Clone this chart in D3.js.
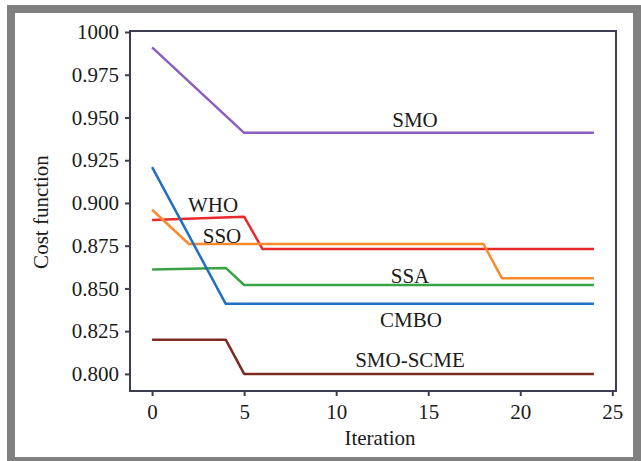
<!DOCTYPE html>
<html><head><meta charset="utf-8">
<script src="https://cdn.jsdelivr.net/npm/d3@7"></script>
<style>html,body{margin:0;padding:0;background:#fff;} svg{display:block;}</style>
</head><body>
<script>
// Data (breakpoints)
const seriesNames = ["SMO", "CMBO", "WHO", "SSO", "SSA", "SMO-SCME"];
const smoIter = [0, 5, 24];
const smoVal = [0.991, 0.941, 0.941];
const cmboIter = [0, 4, 24];
const cmboVal = [0.921, 0.841, 0.841];
const whoIter = [0, 5, 6, 24];
const whoVal = [0.890, 0.892, 0.873, 0.873];
const ssoIter = [0, 2, 18, 19, 24];
const ssoVal = [0.896, 0.876, 0.876, 0.856, 0.856];
const ssaIter = [0, 4, 5, 24];
const ssaVal = [0.861, 0.862, 0.852, 0.852];
const scmeIter = [0, 4, 5, 24];
const scmeVal = [0.820, 0.820, 0.800, 0.800];
const xTicks = [0, 5, 10, 15, 20, 25];
const yTicks = [0.800, 0.825, 0.850, 0.875, 0.900, 0.925, 0.950, 0.975, 1.000];
const yTickLabels = ["0.800", "0.825", "0.850", "0.875", "0.900", "0.925", "0.950", "0.975", "1000"];

const colors = {"SMO": "#8b5fbf", "CMBO": "#1f6fc4", "WHO": "#e8282c", "SSO": "#fb8a2c", "SSA": "#37a345", "SMO-SCME": "#7c2a22"};
const series = [
  {name: "SMO", it: smoIter, v: smoVal, lx: 415, ly: 0.9445},
  {name: "WHO", it: whoIter, v: whoVal, lx: 213, ly: 0.8945},
  {name: "SSO", it: ssoIter, v: ssoVal, lx: 222, ly: 0.8765},
  {name: "SSA", it: ssaIter, v: ssaVal, lx: 410, ly: 0.853},
  {name: "CMBO", it: cmboIter, v: cmboVal, lx: 411, ly: 0.8275},
  {name: "SMO-SCME", it: scmeIter, v: scmeVal, lx: 410, ly: 0.804},
  ];

const W = 641, H = 461;
const svg = d3.select("body").append("svg").attr("width", W).attr("height", H);
svg.append("rect").attr("x", 0).attr("y", 0).attr("width", W).attr("height", H).attr("fill", "#fff");
// gray frame
svg.append("rect").attr("x", 11).attr("y", 9).attr("width", 626).attr("height", 452)
  .attr("fill", "none").attr("stroke", "#808080").attr("stroke-width", 8);

const L = 130, R = 616, T = 31, B = 391;
const x = d3.scaleLinear().domain([-1.2, 25.2]).range([L, R]);
const y = d3.scaleLinear().domain([0.79, 1.0]).range([B, 32]);

const font = "'Liberation Serif', 'Times New Roman', serif";
const axisColor = "#3c3c52";

// frame box
svg.append("rect").attr("x", L).attr("y", T).attr("width", R - L).attr("height", B - T)
  .attr("fill", "none").attr("stroke", axisColor).attr("stroke-width", 2);

// axes
const yAxis = d3.axisLeft(y).tickValues(yTicks).tickSize(5).tickPadding(6)
  .tickFormat((d, i) => yTickLabels[i]);
const gy = svg.append("g").attr("transform", `translate(${L},0)`).call(yAxis);
const xAxis = d3.axisBottom(x).tickValues(xTicks).tickSize(5).tickPadding(8).tickFormat(d3.format("d"));
const gx = svg.append("g").attr("transform", `translate(0,${B})`).call(xAxis);
[gx, gy].forEach(g => {
  g.select(".domain").remove();
  g.selectAll(".tick line").attr("stroke", axisColor).attr("stroke-width", 2);
  g.selectAll(".tick text").attr("fill", "#1a1a1a").style("font-family", font).style("font-size", "21px");
});

// lines
const line = d3.line().x(d => x(d[0])).y(d => y(d[1]));
series.forEach(s => {
  const pts = s.it.map((it, i) => [it, s.v[i]]);
  svg.append("path").datum(pts).attr("d", line)
    .attr("fill", "none").attr("stroke", colors[s.name]).attr("stroke-width", 2.5)
    .attr("stroke-linejoin", "round");
});
// labels
series.forEach(s => {
  svg.append("text").attr("x", s.lx).attr("y", y(s.ly)).attr("text-anchor", "middle")
    .style("font-family", font).style("font-size", "21px").attr("fill", "#1a1a1a").text(s.name);
});

// axis titles
svg.append("text").attr("x", 380).attr("y", 445).attr("text-anchor", "middle")
  .style("font-family", font).style("font-size", "21px").attr("fill", "#1a1a1a").text("Iteration");
svg.append("text").attr("transform", "translate(48,212) rotate(-90)").attr("text-anchor", "middle")
  .style("font-family", font).style("font-size", "21px").attr("fill", "#1a1a1a").text("Cost function");
</script>
</body></html>
